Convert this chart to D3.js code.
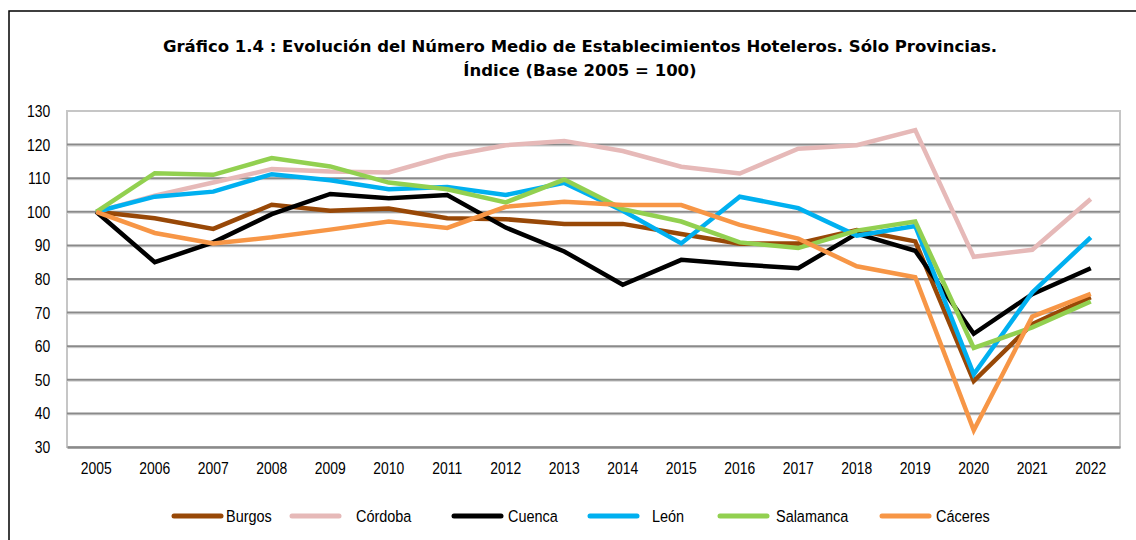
<!DOCTYPE html>
<html>
<head>
<meta charset="utf-8">
<script src="https://cdn.jsdelivr.net/npm/d3@7"></script>
<style>
  body { margin: 0; background: #fff; }
  svg { display: block; }
  .axis text { font-family: "Liberation Sans", Arial, sans-serif; font-size: 17px; fill: #000; }
  .title { font-family: "DejaVu Sans", Verdana, sans-serif; font-weight: bold; font-size: 16.5px; }
  .legend text { font-family: "Liberation Sans", Arial, sans-serif; font-size: 17px; }
</style>
</head>
<body>
<div class="chart"></div>
<script>
const years = ['2005', '2006', '2007', '2008', '2009', '2010', '2011', '2012', '2013',
  '2014', '2015', '2016', '2017', '2018', '2019', '2020', '2021', '2022'];

const burgos = [100, 98.1, 94.9, 102.1, 100.3, 101, 98.1, 97.8, 96.4, 96.4, 93.4, 90.5, 90.6, 94.6, 91.2, 49.6, 66.6, 74.6];
const cordoba = [100, 104.8, 108.7, 112.7, 112, 111.7, 116.6, 119.8, 121.1, 118.1, 113.4, 111.4, 118.8, 119.8, 124.3, 86.6, 88.7, 103.8];
const cuenca = [100, 85, 90.9, 99.3, 105.3, 104, 105, 95.3, 88.2, 78.3, 85.7, 84.3, 83.2, 93.5, 88.4, 63.7, 75.5, 83.2];
const leon = [100, 104.5, 106, 111.2, 109.4, 106.7, 107.4, 105, 108.6, 100.3, 90.6, 104.5, 101.1, 92.9, 95.8, 51.6, 76, 92.4];
const salamanca = [100, 111.5, 111, 116, 113.5, 108.7, 106.7, 102.8, 109.6, 100.8, 97.1, 90.9, 89.2, 94.4, 97.1, 59.5, 65.6, 73.3];
const caceres = [100, 93.7, 90.6, 92.4, 94.7, 97.1, 95.2, 101.5, 103, 102, 102, 96.1, 92, 83.8, 80.5, 35, 68.8, 75.6];

const yTicks = [30, 40, 50, 60, 70, 80, 90, 100, 110, 120, 130];

const series = [
  { name: 'Burgos', values: burgos, color: '#984807' },
  { name: 'Córdoba', values: cordoba, color: '#e6b9b8' },
  { name: 'Cuenca', values: cuenca, color: '#000000' },
  { name: 'León', values: leon, color: '#00b0f0' },
  { name: 'Salamanca', values: salamanca, color: '#92d050' },
  { name: 'Cáceres', values: caceres, color: '#f79646' },
];

const width = 1136;
const height = 540;
const plot = { left: 67, right: 1120, top: 111, bottom: 447 };
// the original text is squeezed horizontally
const squeeze = 0.82;

const svg = d3.select('.chart').append('svg')
  .attr('width', width)
  .attr('height', height);

// Outer frame
svg.append('path')
  .attr('d', `M9,${height + 5}V11H${width + 5}`)
  .attr('fill', 'none')
  .attr('stroke', '#000')
  .attr('stroke-width', 1.5);

// Title
const title = svg.append('text')
  .attr('class', 'title')
  .attr('text-anchor', 'middle');
title.append('tspan').attr('x', 580).attr('y', 52)
  .text('Gráfico 1.4 : Evolución del Número Medio de Establecimientos Hoteleros. Sólo Provincias.');
title.append('tspan').attr('x', 580).attr('y', 76)
  .text('Índice (Base 2005 = 100)');

const x = d3.scaleBand()
  .domain(years)
  .range([plot.left, plot.right]);

const y = d3.scaleLinear()
  .domain([30, 130])
  .range([plot.bottom, plot.top]);

// Plot area frame
svg.append('rect')
  .attr('x', plot.left)
  .attr('y', plot.top)
  .attr('width', plot.right - plot.left)
  .attr('height', plot.bottom - plot.top)
  .attr('fill', 'none')
  .attr('stroke', '#c6c6c6')
  .attr('stroke-width', 2);

// Gridlines
const grid = svg.append('g').attr('class', 'grid');
yTicks.slice(1, -1).forEach((t) => {
  grid.append('line')
    .attr('x1', plot.left).attr('x2', plot.right)
    .attr('y1', y(t) + 1.5).attr('y2', y(t) + 1.5)
    .attr('stroke', '#d6d6d6').attr('stroke-width', 1);
  grid.append('line')
    .attr('x1', plot.left).attr('x2', plot.right)
    .attr('y1', y(t)).attr('y2', y(t))
    .attr('stroke', '#8a8a8a').attr('stroke-width', 2);
});

// Y axis
const yAxis = d3.axisLeft(y)
  .tickValues(yTicks)
  .tickSize(0)
  .tickPadding(20.5);
svg.append('g')
  .attr('class', 'y axis')
  .attr('transform', `translate(${plot.left}, 0)`)
  .call(yAxis)
  .call(g => g.select('.domain').remove())
  .call(g => g.selectAll('text').attr('transform', `scale(${squeeze},1)`));

// X axis
const xAxis = d3.axisBottom(x)
  .tickSize(0)
  .tickPadding(15);
svg.append('g')
  .attr('class', 'x axis')
  .attr('transform', `translate(0, ${plot.bottom})`)
  .call(xAxis)
  .call(g => g.select('.domain')
    .attr('stroke', '#8a8a8a')
    .attr('stroke-width', 2.5))
  .call(g => g.selectAll('text').attr('transform', `scale(${squeeze},1)`));

// Lines
const line = d3.line()
  .x((d, i) => x(years[i]) + x.bandwidth() / 2)
  .y(d => y(d));

svg.append('g')
  .selectAll('path')
  .data(series)
  .enter().append('path')
  .attr('d', d => line(d.values))
  .attr('fill', 'none')
  .attr('stroke', d => d.color)
  .attr('stroke-width', 4.5)
  .attr('stroke-linejoin', 'miter');

// Legend
const legendX = [172, 290, 452, 588, 718, 880];
const legendGap = [3, 15, 5, 13, 7, 5];
const legend = svg.append('g').attr('class', 'legend');
series.forEach((s, i) => {
  const item = legend.append('g').attr('transform', `translate(${legendX[i]}, 516)`);
  item.append('line')
    .attr('x1', 2).attr('x2', 49)
    .attr('stroke', s.color)
    .attr('stroke-width', 5)
    .attr('stroke-linecap', 'round');
  item.append('text')
    .attr('transform', `translate(${51 + legendGap[i]}, 0) scale(0.85,1)`)
    .attr('dy', '0.35em')
    .text(s.name);
});
</script>
</body>
</html>
